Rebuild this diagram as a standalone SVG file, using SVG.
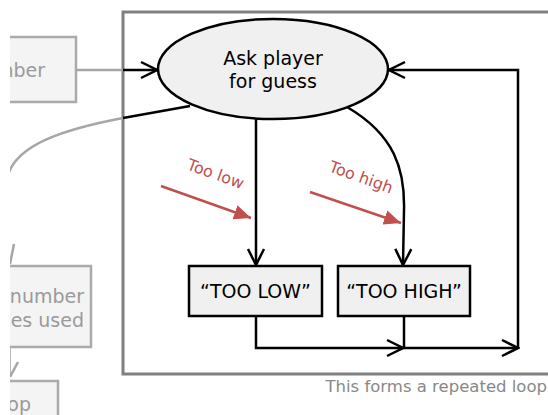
<svg xmlns="http://www.w3.org/2000/svg" width="548" height="415" viewBox="0 0 548 415">
  <style>
    .flow { fill: none; stroke: #000; stroke-width: 2.5; }
    .faded { fill: none; stroke: #a6a6a6; stroke-width: 2.5; }
    .fbox { fill: #f4f4f4; stroke: #aaaaaa; stroke-width: 2.5; }
    .ftxt { font-family: "DejaVu Sans", Verdana, sans-serif; font-size: 19px; fill: #9a9a9a; }
    .node { fill: #f0f0f0; stroke: #000; stroke-width: 2.5; }
    .label { font-family: "DejaVu Sans", Verdana, sans-serif; font-size: 19px; fill: #000; text-anchor: middle; }
    .note { font-family: "DejaVu Sans", Verdana, sans-serif; font-size: 16px; fill: #c0504d; }
    .hint { stroke: #c0504d; stroke-width: 2.5; fill: none; }
  </style>
  <defs>
    <marker id="open" viewBox="0 0 20 20" refX="18" refY="10" markerWidth="20" markerHeight="20" markerUnits="userSpaceOnUse" orient="auto">
      <path d="M2,2 L18,10 L2,18" fill="none" stroke="#000" stroke-width="2.5"/>
    </marker>
    <marker id="red" viewBox="0 0 17 15" refX="17" refY="7.5" markerWidth="17" markerHeight="15" markerUnits="userSpaceOnUse" orient="auto">
      <path d="M0,0 L17,7.5 L0,15 Z" fill="#c0504d"/>
    </marker>
    <clipPath id="edge">
      <rect x="10" y="0" width="538" height="415"/>
    </clipPath>
  </defs>

  <!-- outer loop frame -->
  <rect x="123" y="12" width="440" height="362" fill="none" stroke="#808080" stroke-width="3"/>
  <text x="547" y="392" text-anchor="end" font-family="DejaVu Sans, Verdana, sans-serif" font-size="16.5" fill="#888">This forms a repeated loop</text>

  <!-- faded context outside the loop -->
  <g id="outside" clip-path="url(#edge)">
    <g id="enter-number">
      <rect class="fbox" x="-80" y="37" width="156" height="65"/>
      <text class="ftxt" x="45" y="77" text-anchor="end">nber</text>
    </g>
    <g id="count-guesses">
      <rect class="fbox" x="-80" y="266" width="171" height="81"/>
      <text class="ftxt" x="84" y="303" text-anchor="end">number</text>
      <text class="ftxt" x="84" y="327" text-anchor="end">ses used</text>
    </g>
    <g id="end-loop">
      <rect class="fbox" x="-80" y="381" width="138" height="60"/>
      <text class="ftxt" x="31" y="411" text-anchor="end">op</text>
    </g>
    <g id="faded-connectors">
      <path class="faded" d="M76,70 L123,70"/>
      <path class="faded" d="M123,118 C60,130 20,145 9,172"/>
      <path class="faded" d="M14,244 L10,264"/>
      <path class="faded" d="M9.5,347 L9.5,377 M18,362 L10,377"/>
    </g>
  </g>

  <!-- connectors -->
  <g id="connectors">
    <path class="flow" d="M123,70 L157,70" marker-end="url(#open)"/>
    <path class="flow" d="M190,106 L123,118"/>
    <path class="flow" d="M256,118 L256,265" marker-end="url(#open)"/>
    <path class="flow" d="M347,107 C395,135 405,170 404,210 L403,265" marker-end="url(#open)"/>
    <path class="flow" d="M256,316 L256,348 L403,348" marker-end="url(#open)"/>
    <path class="flow" d="M404,316 L404,348 L518,348" marker-end="url(#open)"/>
    <path class="flow" d="M518,348 L518,70 L389,70" marker-end="url(#open)"/>
  </g>

  <!-- nodes -->
  <g id="ask">
    <ellipse class="node" cx="273" cy="69" rx="115" ry="50"/>
    <text class="label" x="273" y="65">Ask player</text>
    <text class="label" x="273" y="88">for guess</text>
  </g>
  <g id="too-low">
    <rect class="node" x="189" y="266" width="133" height="50"/>
    <text class="label" x="255.5" y="298">“TOO LOW”</text>
  </g>
  <g id="too-high">
    <rect class="node" x="338" y="266" width="132" height="50"/>
    <text class="label" x="404" y="298">“TOO HIGH”</text>
  </g>

  <!-- annotations -->
  <g id="annotations">
    <path class="hint" d="M161,186 L251,218" marker-end="url(#red)"/>
    <text class="note" transform="translate(186,169) rotate(20)">Too low</text>
    <path class="hint" d="M310,192 L401,223" marker-end="url(#red)"/>
    <text class="note" transform="translate(328,171) rotate(20)">Too high</text>
  </g>
</svg>
